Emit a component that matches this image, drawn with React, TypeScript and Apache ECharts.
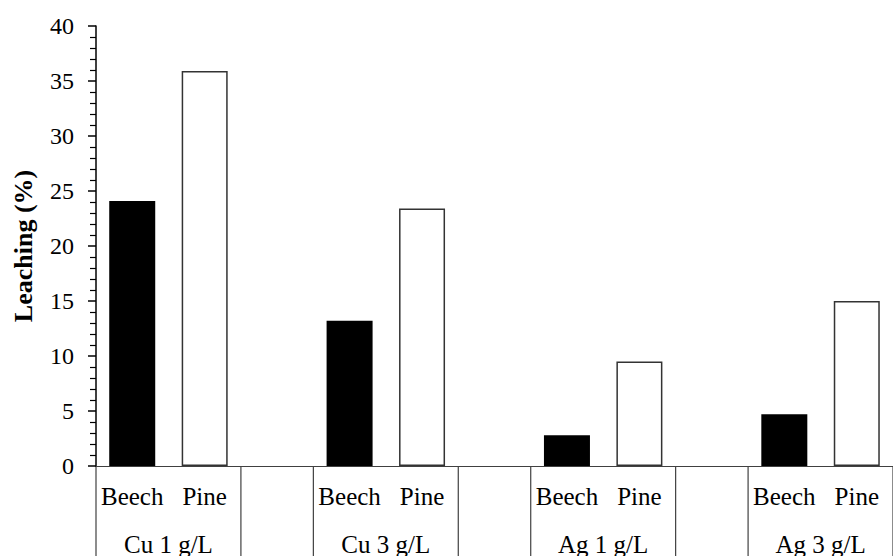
import React, { useEffect, useRef } from "react";
import * as echarts from "echarts";

const groups = ["Cu 1 g/L", "Cu 3 g/L", "Ag 1 g/L", "Ag 3 g/L"];
const species = ["Beech", "Pine"];
const beech = [24.1, 13.2, 2.8, 4.7];
const pine = [35.9, 23.4, 9.5, 15.0];
const yTicks = { min: 0, max: 40, interval: 5 };

const FONT = "Liberation Serif";

export default function App() {
  const ref = useRef<HTMLDivElement>(null);
  useEffect(() => {
    document.body.style.margin = "0";
    if (!ref.current) return;
    const chart = echarts.init(ref.current, undefined, { renderer: "svg" });

    // Build 11 slots: Beech, Pine, gap, Beech, Pine, gap ...
    const cats: string[] = [];
    const beechData: any[] = [];
    const pineData: any[] = [];
    groups.forEach((g, gi) => {
      cats.push(species[0]);
      beechData.push(beech[gi]);
      pineData.push("-");
      cats.push(species[1]);
      beechData.push("-");
      pineData.push(pine[gi]);
      if (gi < groups.length - 1) {
        cats.push("");
        beechData.push("-");
        pineData.push("-");
      }
    });

    chart.setOption({
      animation: false,
      textStyle: { fontFamily: FONT },
      grid: { left: 96, top: 26, width: 810, height: 440, containLabel: false },
      xAxis: {
        type: "category",
        data: cats,
        axisLine: { show: true, lineStyle: { color: "#404040", width: 1.2 } },
        axisTick: { show: false },
        axisLabel: {
          color: "#000",
          fontFamily: FONT,
          fontSize: 25,
          margin: 18,
          interval: 0,
        },
        splitLine: { show: false },
      },
      yAxis: {
        type: "value",
        min: yTicks.min,
        max: yTicks.max,
        interval: yTicks.interval,
        name: "Leaching (%)",
        nameLocation: "middle",
        nameGap: 60,
        nameTextStyle: {
          color: "#000",
          fontFamily: FONT,
          fontSize: 26,
          fontWeight: "bold",
        },
        axisLine: { show: true, lineStyle: { color: "#000", width: 1.5 } },
        axisTick: { show: true, length: 8, lineStyle: { color: "#000", width: 1.5 } },
        minorTick: { show: true, splitNumber: 5, length: 6, lineStyle: { color: "#000", width: 1.2 } },
        axisLabel: { color: "#000", fontFamily: FONT, fontSize: 24, margin: 22 },
        splitLine: { show: false },
      },
      series: [
        {
          name: "Beech",
          type: "bar",
          data: beechData,
          barWidth: 46,
          barGap: "-100%",
          itemStyle: { color: "#000", borderColor: "#000", borderWidth: 0 },
        },
        {
          name: "Pine",
          type: "bar",
          data: pineData,
          barWidth: 46,
          barGap: "-100%",
          itemStyle: { color: "#fff", borderColor: "#333", borderWidth: 1.5 },
        },
      ],
    });

    // Separators and group labels derived from the category axis
    const px = (i: number) => chart.convertToPixel({ xAxisIndex: 0 }, i) as number;
    const y0 = chart.convertToPixel({ yAxisIndex: 0 }, 0) as number;
    const step = px(1) - px(0);
    const graphics: any[] = [];
    const H = 556;
    groups.forEach((g, gi) => {
      const first = gi * 3;
      const left = px(first) - step / 2;
      const right = px(first + 1) + step / 2;
      [left, right].forEach((x) => {
        graphics.push({
          type: "line",
          shape: { x1: x, y1: y0, x2: x, y2: H },
          style: { stroke: "#404040", lineWidth: 1.2 },
        });
      });
      graphics.push({
        type: "text",
        x: (left + right) / 2,
        y: 544,
        style: {
          text: g,
          fill: "#000",
          fontFamily: FONT,
          fontSize: 25,
          textAlign: "center",
          textVerticalAlign: "middle",
        },
      });
    });
    chart.setOption({ graphic: graphics });

    return () => chart.dispose();
  }, []);
  return <div ref={ref} style={{ width: 893, height: 556 }} />;
}
